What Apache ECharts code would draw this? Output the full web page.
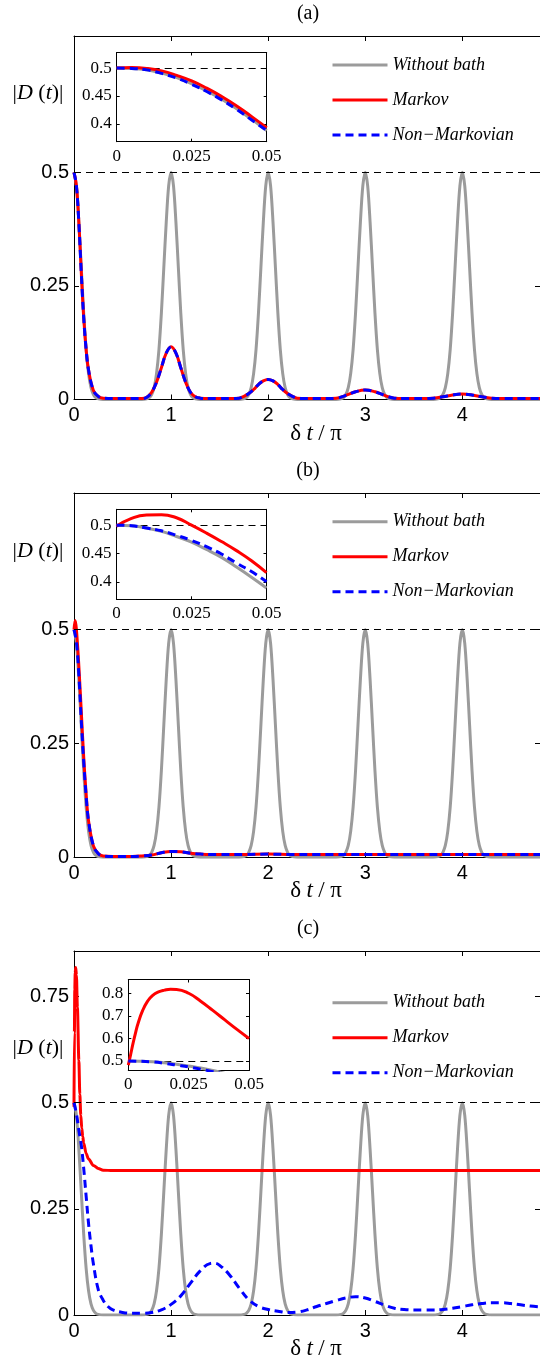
<!DOCTYPE html>
<html><head><meta charset="utf-8">
<script src="https://cdn.jsdelivr.net/npm/echarts@6/dist/echarts.min.js"></script>
<style>html,body{margin:0;padding:0;background:#fff}#c{width:540px;height:1362px}</style>
</head><body><div id="c"></div>
<script>
// ---------------- DATA ----------------
const seriesNames = ['Without bath', 'Markov', 'Non\u2212Markovian'];
const xTicks = [0, 1, 2, 3, 4];
const xRange = [0, 4.8];
const mainYTicksAB = [0, 0.25, 0.5];
const mainYTicksC = [0, 0.25, 0.5, 0.75];
const insetXTicks = [0, 0.025, 0.05];
const insetXRange = [0, 0.05];
const inYTicksAB = [0.4, 0.45, 0.5];
const inYTicksC = [0.5, 0.6, 0.7, 0.8];
const refLevel = 0.5;

// Without bath (same in all three panels)
const grayT = [0,0.025,0.05,0.075,0.1,0.125,0.15,0.175,0.2,0.225,0.25,0.3,
 0.7,0.75,0.775,0.8,0.825,0.85,0.875,0.9,0.925,0.95,0.975,1,1.025,1.05,1.075,1.1,1.125,1.15,1.175,1.2,1.225,1.25,1.3,
 1.7,1.75,1.775,1.8,1.825,1.85,1.875,1.9,1.925,1.95,1.975,2,2.025,2.05,2.075,2.1,2.125,2.15,2.175,2.2,2.225,2.25,2.3,
 2.7,2.75,2.775,2.8,2.825,2.85,2.875,2.9,2.925,2.95,2.975,3,3.025,3.05,3.075,3.1,3.125,3.15,3.175,3.2,3.225,3.25,3.3,
 3.7,3.75,3.775,3.8,3.825,3.85,3.875,3.9,3.925,3.95,3.975,4,4.025,4.05,4.075,4.1,4.125,4.15,4.175,4.2,4.225,4.25,4.3,
 4.8];
const grayV = [0.5,0.47,0.39,0.29,0.19,0.11,0.057,0.026,0.011,0.004,0.0015,0,
 0,0.0015,0.004,0.011,0.026,0.057,0.11,0.19,0.29,0.39,0.47,0.5,0.47,0.39,0.29,0.19,0.11,0.057,0.026,0.011,0.004,0.0015,0,
 0,0.0015,0.004,0.011,0.026,0.057,0.11,0.19,0.29,0.39,0.47,0.5,0.47,0.39,0.29,0.19,0.11,0.057,0.026,0.011,0.004,0.0015,0,
 0,0.0015,0.004,0.011,0.026,0.057,0.11,0.19,0.29,0.39,0.47,0.5,0.47,0.39,0.29,0.19,0.11,0.057,0.026,0.011,0.004,0.0015,0,
 0,0.0015,0.004,0.011,0.026,0.057,0.11,0.19,0.29,0.39,0.47,0.5,0.47,0.39,0.29,0.19,0.11,0.057,0.026,0.011,0.004,0.0015,0,
 0];

// Panel (a): Markov and Non-Markovian almost coincide in the main plot
const markovAT = [0,0.025,0.05,0.075,0.1,0.125,0.15,0.2,0.25,0.3,0.4,0.5,0.6,0.7,
 0.75,0.8,0.85,0.9,0.95,1,1.05,1.1,1.15,1.2,1.25,1.3,1.4,1.5,1.6,
 1.7,1.75,1.8,1.85,1.9,1.95,2,2.05,2.1,2.15,2.2,2.25,2.3,2.4,2.5,2.6,
 2.7,2.8,2.9,3,3.1,3.2,3.3,3.4,3.5,3.6,
 3.7,3.8,3.9,4,4.1,4.2,4.3,4.4,4.5,4.6,4.7,4.8];
const markovAV = [0.5,0.47,0.39,0.28,0.18,0.11,0.065,0.02,0.007,0.003,0.002,0.002,0.002,0.002,
 0.005,0.016,0.038,0.07,0.102,0.116,0.102,0.07,0.038,0.016,0.006,0.003,0.002,0.002,0.002,
 0.003,0.007,0.013,0.022,0.033,0.041,0.044,0.041,0.033,0.022,0.013,0.007,0.003,0.002,0.002,0.002,
 0.003,0.009,0.017,0.021,0.017,0.009,0.003,0.002,0.002,0.002,
 0.003,0.006,0.01,0.012,0.01,0.006,0.003,0.002,0.002,0.002,0.002,0.002];
const nonMarkovAT = [0,0.025,0.05,0.075,0.1,0.125,0.15,0.2,0.25,0.3,0.4,0.5,0.6,0.7,
 0.75,0.8,0.85,0.9,0.95,1,1.05,1.1,1.15,1.2,1.25,1.3,1.4,1.5,1.6,
 1.7,1.75,1.8,1.85,1.9,1.95,2,2.05,2.1,2.15,2.2,2.25,2.3,2.4,2.5,2.6,
 2.7,2.8,2.9,3,3.1,3.2,3.3,3.4,3.5,3.6,
 3.7,3.8,3.9,4,4.1,4.2,4.3,4.4,4.5,4.6,4.7,4.8];
const nonMarkovAV = [0.5,0.47,0.388,0.278,0.18,0.11,0.065,0.02,0.007,0.003,0.002,0.002,0.002,0.002,
 0.005,0.016,0.038,0.07,0.102,0.116,0.102,0.07,0.038,0.016,0.006,0.003,0.002,0.002,0.002,
 0.003,0.007,0.013,0.022,0.033,0.041,0.044,0.041,0.033,0.022,0.013,0.007,0.003,0.002,0.002,0.002,
 0.003,0.009,0.017,0.021,0.017,0.009,0.003,0.002,0.002,0.002,
 0.003,0.006,0.01,0.012,0.01,0.006,0.003,0.002,0.002,0.002,0.002,0.002];

// Panel (b)
const markovBT = [0,0.0125,0.025,0.05,0.075,0.1,0.125,0.15,0.2,0.25,0.3,
 0.4,0.5,0.6,0.7,0.8,0.9,1,1.1,1.2,1.3,1.4,1.5,1.75,2,2.25,2.5,3,3.5,4,4.5,4.8];
const markovBV = [0.5,0.52,0.5,0.42,0.32,0.22,0.14,0.08,0.025,0.008,0.003,
 0.002,0.002,0.002,0.003,0.005,0.01,0.013,0.012,0.009,0.007,0.006,0.006,0.006,0.007,0.006,0.006,0.006,0.006,0.006,0.006,0.006];
const nonMarkovBT = [0,0.025,0.05,0.075,0.1,0.125,0.15,0.2,0.25,0.3,
 0.4,0.5,0.6,0.7,0.8,0.9,1,1.1,1.2,1.3,1.4,1.5,1.75,2,2.25,2.5,3,3.5,4,4.5,4.8];
const nonMarkovBV = [0.5,0.473,0.4,0.3,0.21,0.135,0.08,0.025,0.008,0.003,
 0.002,0.002,0.002,0.003,0.005,0.01,0.013,0.012,0.009,0.007,0.006,0.006,0.006,0.007,0.006,0.006,0.006,0.006,0.006,0.006,0.006];

// Panel (c)
const markovCT = [0,0.004,0.008,0.0125,0.0175,0.025,0.035,0.05,0.06,0.07,0.08,0.09,0.1,0.125,0.15,0.2,0.25,0.3,0.4,4.8];
const markovCV = [0.49,0.665,0.765,0.806,0.818,0.8,0.724,0.6,0.52,0.47,0.44,0.42,0.405,0.38,0.367,0.352,0.345,0.341,0.34,0.34];
const nonMarkovCT = [0,0.025,0.05,0.075,0.1,0.125,0.15,0.175,0.2,0.25,0.3,0.35,0.4,
 0.5,0.6,0.7,0.8,0.9,1,1.1,1.2,1.3,1.4,1.45,1.5,
 1.6,1.7,1.8,1.9,2,2.1,2.2,2.3,2.4,2.5,2.6,2.7,2.8,2.9,3,3.1,3.2,3.3,3.4,3.5,3.6,3.7,3.8,3.9,4,4.1,4.2,4.3,4.4,4.5,4.6,4.7,4.8];
const nonMarkovCV = [0.5,0.474,0.435,0.4,0.345,0.28,0.215,0.163,0.12,0.06,0.035,0.02,0.012,
 0.006,0.004,0.004,0.006,0.012,0.025,0.045,0.075,0.104,0.121,0.122,0.117,
 0.095,0.064,0.036,0.02,0.013,0.009,0.006,0.007,0.012,0.02,0.027,0.034,0.04,0.043,0.04,0.032,0.023,0.016,0.013,0.012,0.012,0.012,0.013,0.016,0.02,0.024,0.027,0.029,0.029,0.027,0.024,0.021,0.019];

// Insets (0 <= t <= 0.05)
const insetT = [0,0.005,0.01,0.015,0.02,0.025,0.03,0.035,0.04,0.045,0.05];
const grayInA = [0.5,0.4995,0.497,0.491,0.483,0.472,0.459,0.444,0.427,0.408,0.388];
const markovInA = [0.5,0.501,0.4995,0.495,0.487,0.477,0.464,0.449,0.432,0.413,0.393];
const nonMarkovInA = [0.5,0.4995,0.4968,0.4905,0.482,0.471,0.458,0.443,0.426,0.407,0.388];
const grayInB = [0.5,0.499,0.495,0.489,0.48,0.47,0.457,0.443,0.426,0.408,0.389];
const markovInB = [0.498,0.512,0.518,0.5185,0.513,0.5,0.486,0.471,0.455,0.437,0.416];
const nonMarkovInB = [0.5,0.499,0.495,0.49,0.482,0.473,0.462,0.449,0.433,0.418,0.4];
const grayInC = [0.5,0.4995,0.497,0.492,0.486,0.478,0.469,0.458,0.445,0.431,0.415];
const nonMarkovInC = [0.5,0.499,0.496,0.49,0.482,0.474,0.464,0.453,0.44,0.426,0.41];
const markovInCT = [0,0.001,0.002,0.003,0.004,0.006,0.008,0.01,0.0125,0.015,0.0175,0.02,0.025,0.03,0.035,0.04,0.045,0.05];
const markovInC = [0.482,0.53,0.58,0.625,0.665,0.725,0.765,0.79,0.806,0.814,0.818,0.817,0.8,0.765,0.724,0.682,0.64,0.6];

// ---------------- LAYOUT ----------------
const panels = [
  {title:'(a)', main:{left:74, top:36, width:470.4, height:363.5}, yMax:0.8, yTicks:mainYTicksAB,
   inset:{left:116.7, top:52.5, width:150, height:89.2}, inY:[0.368,0.528], inYTicks:inYTicksAB,
   legendTop:55, yNameY:93,
   data:{gray:[grayT,grayV], markov:[markovAT,markovAV], non:[nonMarkovAT,nonMarkovAV],
         iGray:[insetT,grayInA], iMarkov:[insetT,markovInA], iNon:[insetT,nonMarkovInA]}},
  {title:'(b)', main:{left:74, top:493, width:470.4, height:364.3}, yMax:0.8, yTicks:mainYTicksAB,
   inset:{left:116.5, top:509.3, width:150, height:90}, inY:[0.369,0.528], inYTicks:inYTicksAB,
   legendTop:511.7, yNameY:551.7,
   data:{gray:[grayT,grayV], markov:[markovBT,markovBV], non:[nonMarkovBT,nonMarkovBV],
         iGray:[insetT,grayInB], iMarkov:[insetT,markovInB], iNon:[insetT,nonMarkovInB]}},
  {title:'(c)', main:{left:74, top:951, width:470.4, height:364}, yMax:0.857, yTicks:mainYTicksC,
   inset:{left:128.3, top:979.5, width:120.7, height:91}, inY:[0.458,0.861], inYTicks:inYTicksC,
   legendTop:992.7, yNameY:1048, monoRed:true,
   data:{gray:[grayT,grayV], markov:[markovCT,markovCV], non:[nonMarkovCT,nonMarkovCV],
         iGray:[insetT,grayInC], iMarkov:[markovInCT,markovInC], iNon:[insetT,nonMarkovInC]}}
];

const C_GRAY = '#9b9b9b', C_RED = '#ff0000', C_BLUE = '#0000ff';
const pairs = (t, v) => t.map((x, i) => [x, v[i]]);

const grids = [], xAxes = [], yAxes = [], series = [], legends = [], graphics = [];

function axisCommon(g, pos, range, ticks, tickLen, label) {
  return {
    type:'value', gridIndex:g, position:pos, min:range[0], max:range[1],
    axisLine:{show:true, onZero:false, lineStyle:{color:'#000', width:1}},
    axisTick:{show:true, inside:true, length:tickLen, customValues:ticks, lineStyle:{color:'#000', width:1}},
    axisLabel: label ? Object.assign({customValues:ticks, color:'#000'}, label) : {show:false},
    splitLine:{show:false}
  };
}

const mainLabel = {fontFamily:'Liberation Sans', fontSize:20};
const insetLabel = {fontFamily:'Liberation Serif', fontSize:17};

function addLine(name, d, g, color, dashed, extra) {
  const s = {
    type:'line', name:name, xAxisIndex:2*g, yAxisIndex:2*g,
    data:pairs(d[0], d[1]), symbol:'none', showSymbol:false, clip:true,
    smooth:0.4,
    lineStyle:{color:color, width:3, type: dashed ? [8,5] : 'solid', cap:'butt', join:'round'},
    itemStyle:{color:color}, emphasis:{disabled:true}, z: dashed ? 4 : (color===C_RED ? 3 : 2)
  };
  return Object.assign(s, extra || {});
}
function refLine() {
  return {symbol:['none','none'], silent:true, animation:false, label:{show:false},
          lineStyle:{color:'#000', width:1, type:[7,5]}, data:[{yAxis:refLevel}]};
}

panels.forEach((p, i) => {
  const gm = 2*i, gi = 2*i + 1;
  grids.push(Object.assign({show:false}, p.main));
  grids.push(Object.assign({show:true, backgroundColor:'#fff', borderWidth:0}, p.inset));
  xAxes.push(axisCommon(gm, 'bottom', xRange, xTicks, 5, Object.assign({margin:6}, mainLabel)));
  xAxes.push(axisCommon(gm, 'top', xRange, xTicks, 5, null));
  yAxes.push(axisCommon(gm, 'left', [0, p.yMax], p.yTicks, 5, Object.assign({margin:5}, mainLabel)));
  yAxes.push(axisCommon(gm, 'right', [0, p.yMax], p.yTicks, 5, null));
  xAxes.push(axisCommon(gi, 'bottom', insetXRange, insetXTicks, 3, Object.assign({margin:6}, insetLabel)));
  xAxes.push(axisCommon(gi, 'top', insetXRange, insetXTicks, 3, null));
  yAxes.push(axisCommon(gi, 'left', p.inY, p.inYTicks, 3, Object.assign({margin:5}, insetLabel)));
  yAxes.push(axisCommon(gi, 'right', p.inY, p.inYTicks, 3, null));

  const d = p.data;
  const redMain = p.monoRed ? {smooth:0.3, smoothMonotone:'x'} : {};
  series.push(addLine(seriesNames[0], d.gray, gm, C_GRAY, false, {smooth:0.3, markLine:refLine()}));
  series.push(addLine(seriesNames[1], d.markov, gm, C_RED, false, redMain));
  series.push(addLine(seriesNames[2], d.non, gm, C_BLUE, true));
  series.push(addLine(seriesNames[0], d.iGray, gi, C_GRAY, false, {markLine:refLine(), z:5}));
  series.push(addLine(seriesNames[1], d.iMarkov, gi, C_RED, false, {z:6, smooth:0.5}));
  series.push(addLine(seriesNames[2], d.iNon, gi, C_BLUE, true, {z:7}));

  legends.push({
    show:true, left:331, top:p.legendTop, orient:'vertical', itemWidth:55, itemHeight:20, itemGap:15,
    selectedMode:false, data:seriesNames, padding:0,
    itemStyle:{opacity:0, color:'rgba(0,0,0,0)', borderWidth:0},
    lineStyle:{width:3, inactiveWidth:3},
    textStyle:{fontFamily:'Liberation Serif', fontStyle:'italic', fontSize:18, color:'#000', lineHeight:20}
  });

  const bottom = p.main.top + p.main.height;
  graphics.push({type:'text', x:308, y:p.main.top - 22, silent:true,
    style:{text:p.title, font:'20px "Liberation Serif"', fill:'#000', textAlign:'center', textVerticalAlign:'middle'}});
  graphics.push({type:'text', x:316, y:bottom + 34, silent:true,
    style:{text:'{u|\u03b4} {i|t} {u|/} {u|\u03c0}', font:'22px "Liberation Serif"', fill:'#000',
      textAlign:'center', textVerticalAlign:'middle',
      rich:{u:{fontFamily:'Liberation Serif', fontSize:23, fill:'#000'},
            i:{fontFamily:'Liberation Serif', fontSize:23, fontStyle:'italic', fill:'#000'}}}});
  graphics.push({type:'text', x:38, y:p.yNameY, silent:true,
    style:{text:'{u||}{i|D}{u| (}{i|t}{u|)|}', font:'22px "Liberation Serif"', fill:'#000',
      textAlign:'center', textVerticalAlign:'middle',
      rich:{u:{fontFamily:'Liberation Serif', fontSize:22, fill:'#000'},
            i:{fontFamily:'Liberation Serif', fontSize:22, fontStyle:'italic', fill:'#000'}}}});
});

const chart = echarts.init(document.getElementById('c'), null, {renderer:'canvas'});
chart.setOption({
  animation:false,
  backgroundColor:'#fff',
  grid:grids, xAxis:xAxes, yAxis:yAxes, series:series, legend:legends, graphic:graphics,
  tooltip:{show:false}
});
</script></body></html>
